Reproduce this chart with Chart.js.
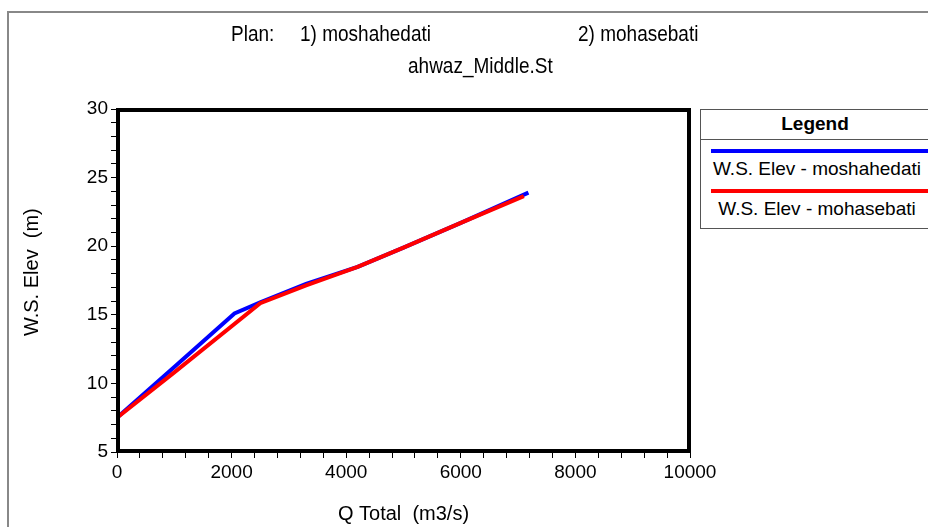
<!DOCTYPE html>
<html>
<head>
<meta charset="utf-8">
<script src="https://cdn.jsdelivr.net/npm/chart.js@4/dist/chart.umd.min.js"></script>
<style>
  html, body { margin: 0; padding: 0; background: #fff; }
  #wrap { position: relative; width: 928px; height: 527px; overflow: hidden; font-family: "Liberation Sans", Arial, sans-serif; }
  #frame { position: absolute; left: 7px; top: 11px; right: -10px; bottom: -10px; border-top: 2px solid #888; border-left: 2px solid #888; }
  canvas { position: absolute; left: 0; top: 0; }
  .t { position: absolute; font-size: 19px; color: #000; white-space: nowrap; line-height: 1; transform-origin: left center; transform: scaleY(1.15); }
  #legend { position: absolute; left: 700px; top: 109px; width: 240px; height: 120px; border: 1px solid #555; box-sizing: border-box; background: #fff; }
  #legend .hdr { height: 29px; border-bottom: 1px solid #555; font-weight: bold; font-size: 19px; text-align: center; line-height: 27px; width: 228px; }
  .item { position: relative; height: 40px; width: 228px; }
  .item .ln { position: absolute; left: 10px; right: -20px; top: 9px; height: 4px; }
  .item .lb { position: absolute; left: 2px; width: 228px; top: 18px; text-align: center; font-size: 19px; line-height: 22px; }
</style>
</head>
<body>
<div id="wrap">
  <div id="frame"></div>
  <canvas id="c" width="928" height="527"></canvas>
  <div class="t" style="left:231px; top:24px;">Plan:</div>
  <div class="t" style="left:300px; top:24px;">1) moshahedati</div>
  <div class="t" style="left:578px; top:24px;">2) mohasebati</div>
  <div class="t" style="left:408px; top:56px;">ahwaz_Middle.St</div>
  <div id="legend"></div>
</div>
<script>
const plans = ['1) moshahedati', '2) mohasebati'];
const seriesNames = ['W.S. Elev - moshahedati', 'W.S. Elev - mohasebati'];

const qMoshahedati = [0, 1000, 2050, 2500, 3300, 4200, 5000, 6000, 7180];
const elevMoshahedati = [7.5, 11.2, 15.1, 15.9, 17.25, 18.5, 19.9, 21.7, 23.9];

const qMohasebati = [0, 1000, 2500, 3300, 4200, 5000, 6000, 7100];
const elevMohasebati = [7.5, 10.8, 15.85, 17.15, 18.5, 19.9, 21.7, 23.65];

const xTickLabels = [0, 2000, 4000, 6000, 8000, 10000];
const yTickLabels = [5, 10, 15, 20, 25, 30];

const toPts = (xs, ys) => xs.map((x, i) => ({ x: x, y: ys[i] }));

const framePlugin = {
  id: 'frame',
  afterDatasetsDraw(chart) {
    const a = chart.chartArea, ctx = chart.ctx;
    ctx.save();
    ctx.strokeStyle = '#000';
    ctx.lineWidth = 4;
    ctx.strokeRect(a.left + 1, a.top + 1, a.right - a.left - 2, a.bottom - a.top - 2);
    ctx.restore();
  }
};

const chart = new Chart(document.getElementById('c'), {
  type: 'scatter',
  data: {
    datasets: [
      { label: seriesNames[0], data: toPts(qMoshahedati, elevMoshahedati), borderColor: '#0000ff', backgroundColor: '#0000ff', showLine: true, borderWidth: 4, pointRadius: 0, order: 1, tension: 0 },
      { label: seriesNames[1], data: toPts(qMohasebati, elevMohasebati), borderColor: '#ff0000', backgroundColor: '#ff0000', showLine: true, borderWidth: 4, pointRadius: 0, order: 0, tension: 0 }
    ]
  },
  options: {
    responsive: false,
    animation: false,
    layout: { padding: { left: 0, top: 109, right: 238, bottom: 0 } },
    plugins: { legend: { display: false }, tooltip: { enabled: false } },
    scales: {
      x: {
        type: 'linear', min: 0, max: 10000,
        afterFit(s) { s.height = 75; },
        border: { display: true, color: '#000', width: 1 },
        grid: { drawOnChartArea: false, drawTicks: true, tickLength: 6, color: '#000', tickWidth: 1 },
        ticks: {
          stepSize: 400, autoSkip: false, maxRotation: 0, padding: 3, color: '#000',
          font: { family: '"Liberation Sans", Arial, sans-serif', size: 19 },
          callback: v => xTickLabels.includes(v) ? String(v) : ''
        },
        title: { display: true, text: 'Q Total  (m3/s)', color: '#000', font: { family: '"Liberation Sans", Arial, sans-serif', size: 20 }, padding: { top: 0, bottom: 1 } }
      },
      y: {
        type: 'linear', min: 5, max: 30,
        afterFit(s) { s.width = 117; },
        border: { display: true, color: '#000', width: 1 },
        grid: { drawOnChartArea: false, drawTicks: true, tickLength: 6, color: '#000', tickWidth: 1 },
        ticks: {
          stepSize: 1, autoSkip: false, padding: 3, color: '#000',
          font: { family: '"Liberation Sans", Arial, sans-serif', size: 19 },
          callback: v => yTickLabels.includes(v) ? String(v) : ''
        },
        title: { display: true, text: '\u00a0\u00a0\u00a0W.S. Elev  (m)', color: '#000', font: { family: '"Liberation Sans", Arial, sans-serif', size: 20 }, padding: { top: 20, bottom: 0 } }
      }
    }
  },
  plugins: [framePlugin]
});

// HTML legend built from the chart datasets
const lg = document.getElementById('legend');
let html = '<div class="hdr">Legend</div>';
chart.data.datasets.forEach(ds => {
  html += '<div class="item"><div class="ln" style="background:' + ds.borderColor + '"></div><div class="lb">' + ds.label + '</div></div>';
});
lg.innerHTML = html;
</script>
</body>
</html>
